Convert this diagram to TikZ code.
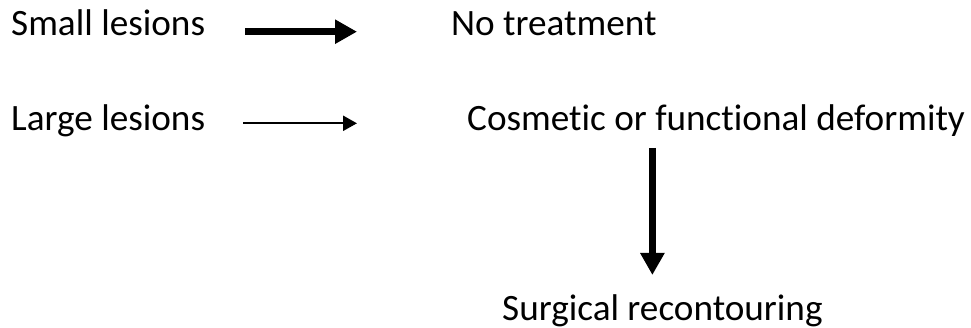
\documentclass[tikz,border=0pt]{standalone}
\usepackage{fontspec}
\setmainfont[Ligatures=NoCommon]{Carlito}
\usetikzlibrary{arrows.meta,positioning,calc}

\begin{document}
\begin{tikzpicture}[
  x=1pt,y=-1pt,
  txt/.style={anchor=base west,inner sep=0pt,font=\fontsize{37.2}{44}\selectfont},
  boldarr/.style={line width=7pt,-{Triangle[length=22pt,width=23pt]}},
  thinarr/.style={line width=2.3pt,-{Triangle[length=14pt,width=15pt]}}
]
\path[fill=white] (0,0) rectangle (971,328);

\node[txt] (small) at (11,36) {Small lesions};
\node[txt] (none) at (451,36) {No treatment};
\node[txt] (large) at (11,131) {Large lesions};
\node[txt] (deform) at (467,131) {Cosmetic or functional deformity};
\node[txt] (surg) at (502,320) {Surgical recontouring};

\path[use as bounding box] (0,0) rectangle (971,328);
\draw[boldarr] ([xshift=40pt,yshift=4.3pt]small.base east) -- ([xshift=-94pt,yshift=4.3pt]none.base west);
\draw[thinarr] ([xshift=38pt,yshift=7.7pt]large.base east) -- ([xshift=-110pt,yshift=7.7pt]deform.base west);
% down to the surgery step
\draw[boldarr] ([xshift=-10pt,yshift=-17pt]surg.base |- deform.base) -- ([xshift=-10pt,yshift=45pt]surg.base);
\end{tikzpicture}
\end{document}
